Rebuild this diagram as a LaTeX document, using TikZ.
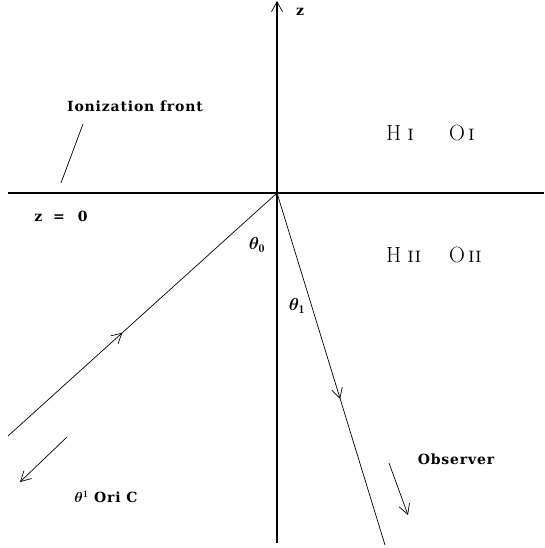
\documentclass[tikz,border=0pt]{standalone}
\usepackage{amsmath,bm}
\usepackage{fontspec}
\newfontfamily\lblfont[LetterSpace=6]{DejaVu Serif}
\usetikzlibrary{arrows.meta,decorations.markings}
\tikzset{
  axis/.style={line width=1.1pt},
  ray/.style={line width=0.7pt},
  vtip/.style={-{Straight Barb[length=10pt,width=11pt,line width=0.7pt]}},
  midarrow/.style={postaction={decorate},decoration={markings,
     mark=at position #1 with {\arrow{Straight Barb[length=10pt,width=11pt,line width=0.7pt]}}}},
  lbl/.style={font=\lblfont\bfseries\fontsize{14}{16}\selectfont, inner sep=0pt},
  ion/.style={font=\fontsize{22}{24}\selectfont, inner sep=0pt},
  ang/.style={font=\fontsize{17}{19}\selectfont, inner sep=0pt}
}
\begin{document}
\begin{tikzpicture}[x=1pt,y=-1pt]
\useasboundingbox (0,0) rectangle (544,548);
% coordinates
\coordinate (O) at (277,193);
\coordinate (ztop) at (277,1);
\coordinate (zbot) at (277,543);
\coordinate (hleft) at (8,193);
\coordinate (hright) at (544,193);
\coordinate (inS) at (8,436);
\coordinate (outE) at (385,545);
\coordinate (fA) at (83,124);
\coordinate (fB) at (61,183);
\coordinate (oriA) at (67,437);
\coordinate (oriB) at (20,482);
\coordinate (obsA) at (389,463);
\coordinate (obsB) at (408,515);
% axes
\draw[axis,vtip] (zbot) -- (ztop);
\draw[axis] (hleft) -- (hright);
% rays
\draw[ray,midarrow=0.425] (inS) -- (O);
\draw[ray,midarrow=0.585] (O) -- (outE);
\draw[ray] (fA) -- (fB);
\draw[ray,vtip] (oriA) -- (oriB);
\draw[ray,vtip] (obsA) -- (obsB);
% labels
\node[lbl] (zl) at (300,12) {z};
\node[lbl] (front) at (135,106) {Ionization front};
\node[lbl] (z0) at (61,216) {z\hspace{11pt}=\hspace{13pt}0};
\node[lbl] (ori) at (106,497) {$\bm{\theta}^{\mathbf 1}$ Ori C};
\node[lbl] (obs) at (456,459) {Observer};
\node[ang] (t0) at (257,245) {$\bm{\theta}_{\mathbf 0}$};
\node[ang] (t1) at (297,306) {$\bm{\theta}_{\mathbf 1}$};
\node[ion,anchor=west] (hi) at (386,133) {H\hspace{6pt}\textsc{i}};
\node[ion,anchor=west] (oi) at (449,133) {O\hspace{3pt}\textsc{i}};
\node[ion,anchor=west] (hii) at (386,255) {H\hspace{6pt}\textsc{ii}};
\node[ion,anchor=west] (oii) at (449,255) {O\hspace{3pt}\textsc{ii}};
\end{tikzpicture}
\end{document}
